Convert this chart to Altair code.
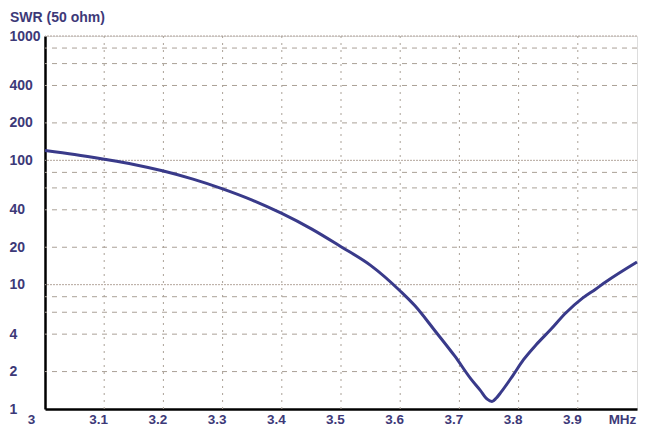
import altair as alt
import pandas as pd

# Curve data (frequency MHz, SWR)
freq = [3.0, 3.05, 3.1, 3.15, 3.2, 3.25, 3.3, 3.35, 3.4, 3.45, 3.5, 3.55, 3.6, 3.625,
        3.658, 3.692, 3.72, 3.735, 3.747, 3.755, 3.762, 3.77, 3.79, 3.808, 3.83, 3.853,
        3.88, 3.908, 3.93, 3.947, 4.0]
swr = [120, 111.4, 102, 92.6, 82, 70.6, 59, 47.9, 37.4, 28.1, 20.2, 14.3, 8.9, 6.76,
       4.3, 2.67, 1.73, 1.42, 1.2, 1.15, 1.22, 1.36, 1.85, 2.48, 3.3, 4.3,
       5.95, 7.8, 9.2, 10.5, 15.2]

y_major = [10, 100, 1000]
y_minor = [2, 4, 6, 8, 20, 40, 60, 80, 200, 400, 600, 800]
x_grid = [3.1, 3.2, 3.3, 3.4, 3.5, 3.6, 3.7, 3.8, 3.9]
y_labels = [1, 2, 4, 10, 20, 40, 100, 200, 400, 1000]
x_labels = [3.0, 3.1, 3.2, 3.3, 3.4, 3.5, 3.6, 3.7, 3.8, 3.9, 4.0]

TEXT = "#3d3978"
LINE = "#393a8a"
FONT = "Liberation Sans"

xs = alt.Scale(domain=[3.0, 4.0], nice=False, zero=False)
ys = alt.Scale(type="log", domain=[1, 1000], nice=False)

x_axis = alt.Axis(values=x_labels, grid=False, ticks=False, domainColor="black",
                  domainWidth=2.5, labelColor=TEXT, labelFont=FONT, labelFontSize=13.5,
                  labelFontWeight="bold", labelPadding=3, labelFlush=False,
                  labelOverlap=False,
                  labelExpr="datum.value >= 3.95 ? 'MHz' : format(datum.value, '~g')",
                  labelOffset={"expr": "datum.value <= 3.01 ? -14 : (datum.value >= 3.95 ? -15 : -6)"})
y_axis = alt.Axis(values=y_labels, grid=False, ticks=False, domainColor="black",
                  domainWidth=2.5, labelColor=TEXT, labelFont=FONT, labelFontSize=14,
                  labelFontWeight="bold", labelAlign="left", labelPadding=36,
                  labelFlush=False, labelOverlap=False, format="~g")

curve_df = pd.DataFrame({"f": freq, "s": swr})
major_df = pd.DataFrame({"v": y_major})
minor_df = pd.DataFrame({"v": y_minor})
xg_df = pd.DataFrame({"f": x_grid})

minor = alt.Chart(minor_df).mark_rule(color="#aaa197", strokeWidth=1, strokeDash=[5, 5]).encode(
    y=alt.Y("v:Q", scale=ys, axis=y_axis, title=None))
major = alt.Chart(major_df).mark_rule(color="#b3a59c", strokeWidth=1, strokeDash=[2, 1]).encode(
    y=alt.Y("v:Q", scale=ys, axis=y_axis, title=None))
vgrid = alt.Chart(xg_df).mark_rule(color="#aaa197", strokeWidth=1, strokeDash=[2, 5]).encode(
    x=alt.X("f:Q", scale=xs, axis=x_axis, title=None))

line = alt.Chart(curve_df).mark_line(color=LINE, strokeWidth=3, interpolate="monotone").encode(
    x=alt.X("f:Q", scale=xs, title=None, axis=x_axis),
    y=alt.Y("s:Q", scale=ys, title=None, axis=y_axis),
)

chart = alt.layer(minor, major, vgrid, line).properties(
    width=592, height=373,
    autosize=alt.AutoSizeParams(type="none"),
    padding={"left": 37, "top": 28, "right": 2, "bottom": 18},
    title=alt.TitleParams("SWR (50 ohm)", anchor="start", dx=-35, offset=4, color=TEXT,
                          font=FONT, fontSize=14, fontWeight="bold", frame="group"),
).configure_view(stroke=None).configure(background="white")

chart.save("out.html", embed_options={"renderer": "svg", "actions": False})
